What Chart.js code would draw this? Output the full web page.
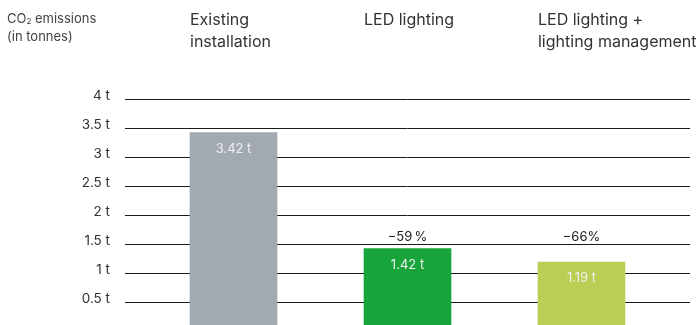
<!DOCTYPE html>
<html>
<head>
<meta charset="utf-8">
<script src="https://cdn.jsdelivr.net/npm/chart.js@4"></script>
<style>
    html, body { margin: 0; padding: 0; background: #fff; overflow: hidden; }
    #wrap { width: 700px; height: 331px; position: relative; }
</style>
</head>
<body>
<div id="wrap"><canvas id="chart"></canvas></div>
<script>
    'use strict';

    // chart data
    var categories = [['Existing', 'installation'], ['LED lighting'], ['LED lighting +', 'lighting management']];
    var emissions = [3.42, 1.42, 1.19];
    var reductions = [null, '\u221259\u2009%', '\u221266%'];
    var yTicks = [0.5, 1, 1.5, 2, 2.5, 3, 3.5, 4];
    var yTitle = ['CO\u2082 emissions', '(in tonnes)'];

    var barColors = ['#a2a9b0', '#17a43a', '#b9cf53'];
    var fontFamily = 'Inter, "Liberation Sans", sans-serif';
    var barWidth = 87;

    var points = emissions.map((v, i) => ({ x: i, y: v }));

    // header texts, value labels and percentages
    var labelPlugin = {
        id: 'labels',
        afterDatasetsDraw: function (chart) {
            var ctx = chart.ctx;
            var xs = chart.scales.x;
            var ys = chart.scales.y;
            ctx.save();
            ctx.textBaseline = 'middle';

            ctx.fillStyle = '#444';
            ctx.font = '13px ' + fontFamily;
            ctx.textAlign = 'left';
            ctx.fillText('CO', 7, 19);
            var w = ctx.measureText('CO').width;
            ctx.font = '8px ' + fontFamily;
            ctx.fillText('2', 7 + w, 22);
            var w2 = ctx.measureText('2').width;
            ctx.font = '13px ' + fontFamily;
            ctx.fillText(' emissions', 7 + w + w2, 19);
            ctx.fillText(yTitle[1], 7, 37);

            ctx.font = '16px ' + fontFamily;
            ctx.fillStyle = '#333';
            categories.forEach((lines, i) => {
                var left = xs.getPixelForValue(i) - barWidth / 2;
                lines.forEach((line, j) => {
                    ctx.fillText(line, left, 20 + j * 22);
                });
            });

            ctx.textAlign = 'center';
            ctx.font = '13px ' + fontFamily;
            emissions.forEach((v, i) => {
                var cx = xs.getPixelForValue(i);
                ctx.fillStyle = '#eef0f0';
                ctx.fillText(v.toFixed(2) + ' t', cx, ys.getPixelForValue(v) + 16);
                if (reductions[i]) {
                    ctx.fillStyle = '#222';
                    ctx.fillText(reductions[i], cx, ys.getPixelForValue(emissions[1]) - 12);
                }
            });
            ctx.restore();
        }
    };

    var chart = new Chart(document.getElementById('chart'), {
        type: 'bar',
        data: {
            datasets: [{
                data: points,
                backgroundColor: barColors,
                barThickness: barWidth,
                borderWidth: 0
            }]
        },
        options: {
            responsive: true,
            maintainAspectRatio: false,
            animation: false,
            layout: { padding: { top: 99, right: 10, left: 0, bottom: 0 } },
            plugins: { legend: { display: false }, tooltip: { enabled: false } },
            scales: {
                x: {
                    type: 'linear',
                    display: false,
                    offset: false,
                    min: -0.6236,
                    max: 2.6236
                },
                y: {
                    min: 0,
                    max: 4,
                    afterFit: s => {
                        s.width = 125;
                        s.paddingTop = 0;
                        s.paddingBottom = 0;
                    },
                    afterBuildTicks: s => { s.ticks = yTicks.map(v => ({ value: v })); },
                    border: { display: false },
                    grid: { color: '#1a1a1a', lineWidth: 1, drawTicks: false },
                    ticks: {
                        padding: 15,
                        labelOffset: -3,
                        color: '#333',
                        font: { family: fontFamily, size: 13.5 },
                        callback: v => v + ' t'
                    }
                }
            }
        },
        plugins: [labelPlugin]
    });
</script>
</body>
</html>
